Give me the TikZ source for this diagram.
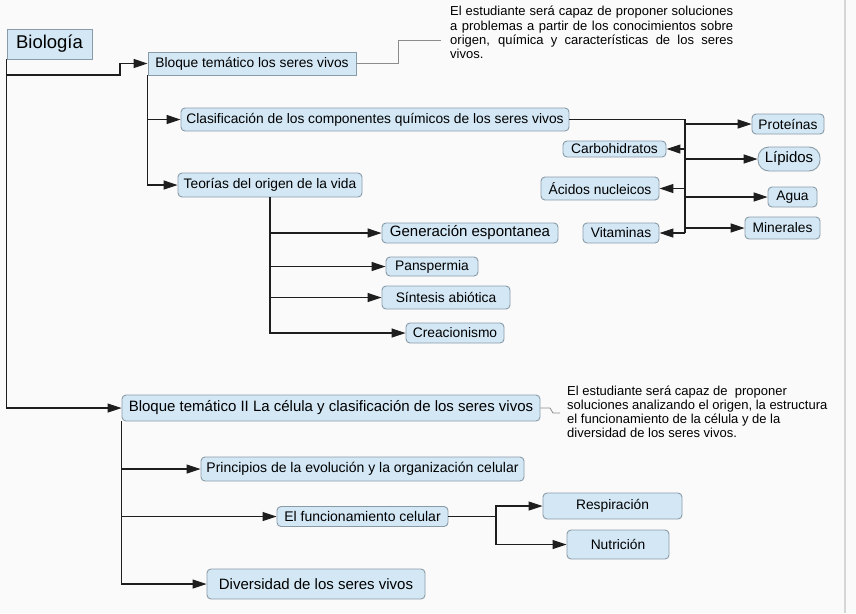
\documentclass[tikz,border=0pt]{standalone}
\usepackage{fontspec}
\setmainfont{Liberation Sans}
\usetikzlibrary{arrows.meta,calc}
\definecolor{boxfill}{HTML}{D3E7F5}
\definecolor{boxline}{HTML}{8A9BA8}
\definecolor{bg}{HTML}{FAFAFA}
\definecolor{lnk}{HTML}{1E1E1E}
\definecolor{note}{HTML}{8C8C8C}
\definecolor{edge}{HTML}{D6D6D6}
\begin{document}
\begin{tikzpicture}[x=1pt,y=-1pt,
  box/.style={draw=boxline, fill=boxfill, line width=0.9pt, rounded corners=4pt, inner sep=0pt,
              font=\fontsize{13.8}{16}\selectfont, text=black},
  sq/.style={box, rounded corners=0pt},
  wh/.style 2 args={minimum width=#1pt, minimum height=#2pt},
  big/.style={font=\fontsize{15}{17}\selectfont},
  mid/.style={font=\fontsize{14}{16}\selectfont},
  arr/.style={draw=lnk, line width=1.1pt, -{Triangle[length=14pt,width=9pt]}},
  ln/.style={draw=lnk, line width=1.1pt},
  nl/.style={draw=note, line width=0.8pt},
  notetext/.style={inner sep=0pt, align=left, text=black}
]
\fill[bg] (0,0) rectangle (856,613);
\useasboundingbox (0,0) rectangle (856,613);
\draw[edge, line width=1.5pt] (845,0) -- (845,613);

% nodes
\node[sq, wh={85}{30}, font=\fontsize{18.5}{20}\selectfont] (bio) at (49.5,44) {Biología};
\node[sq, wh={208}{23}] (b1) at (252,63.5) {Bloque temático los seres vivos};
\node[box, wh={388}{23}] (clas) at (375,119.5) {Clasificación de los componentes químicos de los seres vivos};
\node[box, wh={184}{24}] (teo) at (270,185) {Teorías del origen de la vida};
\node[box, wh={176}{20}, big] (gen) at (470,233) {Generación espontanea};
\node[box, wh={92}{19}] (pan) at (432,266.5) {Panspermia};
\node[box, wh={128}{23}] (sin) at (446,297.5) {Síntesis abiótica};
\node[box, wh={98}{20}] (cre) at (455,333) {Creacionismo};

\node[box, wh={72}{20}] (pro) at (788,124) {Proteínas};
\node[box, wh={103}{16}] (car) at (614.5,149) {Carbohidratos};
\node[box, wh={62}{24}, big, rounded corners=11pt] (lip) at (789,159) {Lípidos};
\node[box, wh={118}{23}] (aci) at (600,188.5) {Ácidos nucleicos};
\node[box, wh={49}{20}] (agu) at (792.5,197) {Agua};
\node[box, wh={76}{20}] (vit) at (621,233) {Vitaminas};
\node[box, wh={75}{22}] (min) at (782.5,228) {Minerales};

\node[box, wh={418}{26}, big] (b2) at (331,408) {Bloque temático II La célula y clasificación de los seres vivos};
\node[box, wh={323}{24}, mid] (pri) at (362.5,469) {Principios de la evolución y la organización celular};
\node[box, wh={171}{20}, mid] (fun) at (362.5,516.5) {El funcionamiento celular};
\node[box, wh={139}{26}] (res) at (612.5,506) {Respiración};
\node[box, wh={102}{29}] (nut) at (618,544.5) {Nutrición};
\node[box, wh={218}{30}, big] (div) at (316,584) {Diversidad de los seres vivos};

% notes
\node[notetext, anchor=north west, font=\fontsize{13}{14.3}\selectfont] (d1) at (450,6)
 {\makebox[283pt][s]{El estudiante será capaz de proponer soluciones}\\
  \makebox[283pt][s]{a problemas a partir de los conocimientos sobre}\\
  \makebox[283pt][s]{origen, química y características de los seres}\\
  vivos.};
\node[notetext, anchor=north west, font=\fontsize{13}{14}\selectfont] (d2) at (567,386)
 {El estudiante será capaz de \ proponer\\
  soluciones analizando el origen, la estructura\\
  el funcionamiento de la célula y de la\\
  diversidad de los seres vivos.};

% coordinates
\coordinate (bj) at (7,75);
\coordinate (bk) at (120,75);
\coordinate (cj) at (685,119.5);
\coordinate (fj) at (496,516.5);
\coordinate (n1a) at (398,63.5);
\coordinate (n1b) at (398,40);
\coordinate (n1) at (441,40);
\coordinate (n2a) at (550,408);
\coordinate (n2b) at (553,413);
\coordinate (n2) at (560,413);

% note connectors
\draw[nl] (b1.east) -- (n1a) -- (n1b) -- (n1);
\draw[nl] (b2.east) -- (n2a) -- (n2b) -- (n2);

% main tree
\draw[arr] (bio.south west) |- (b2.west);
\draw[arr] (bj) -- (bk) |- (b1.west);

\draw[arr] (b1.south west) |- (teo.west);
\draw[arr] (b1.south west |- clas.west) -- (clas.west);

\draw[arr] (teo.south) |- (cre.west);
\draw[arr] (teo.south |- gen.west) -- (gen.west);
\draw[arr] (teo.south |- pan.west) -- (pan.west);
\draw[arr] (teo.south |- sin.west) -- (sin.west);

\draw[ln] (clas.east) -- (cj) -- (cj |- vit.east);
\draw[arr] (cj |- pro.west) -- (pro.west);
\draw[arr] (cj |- lip.west) -- (lip.west);
\draw[arr] (cj |- agu.west) -- (agu.west);
\draw[arr] (cj |- min.west) -- (min.west);
\draw[arr] (cj |- car.east) -- (car.east);
\draw[arr] (cj |- aci.east) -- (aci.east);
\draw[arr] (cj |- vit.east) -- (vit.east);

\draw[arr] (b2.south west) |- (div.west);
\draw[arr] (b2.south west |- pri.west) -- (pri.west);
\draw[arr] (b2.south west |- fun.west) -- (fun.west);

\draw[ln] (fun.east) -- (fj);
\draw[arr] (fj) |- (res.west);
\draw[arr] (fj) |- (nut.west);
\end{tikzpicture}
\end{document}
